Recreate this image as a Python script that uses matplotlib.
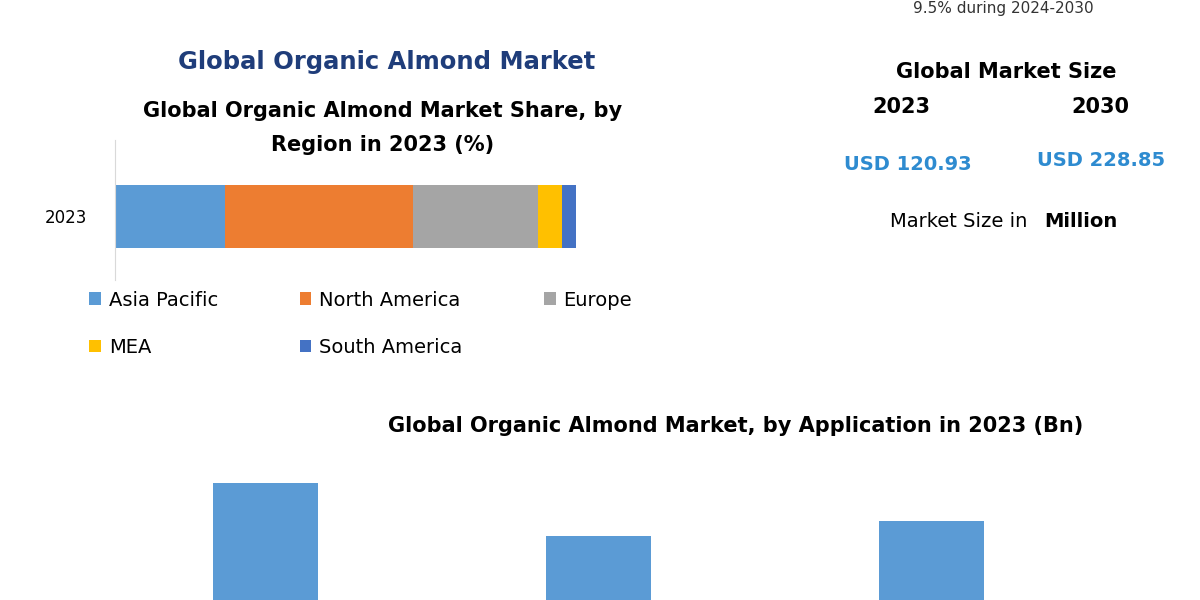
import matplotlib.pyplot as plt

regions = ['Asia Pacific', 'North America', 'Europe', 'MEA', 'South America']
shares = [23.9, 40.8, 27.1, 5.2, 3.0]
region_colors = ['#5b9bd5', '#ed7d31', '#a5a5a5', '#ffc000', '#4472c4']

applications = ['Food & Beverages', 'Cosmetics', 'Others']
app_values = [4.18, 2.29, 2.82]

fig = plt.figure(figsize=(12, 6), dpi=100)
W, H = 1200, 600

def px(x, y):
    return x / W, 1 - y / H

def txt(x, y, s, **kw):
    fig.text(*px(x, y), s, ha='center', va='center', **kw)

txt(1003, 8, '9.5% during 2024-2030', fontsize=11, color='#333333')
txt(387, 62, 'Global Organic Almond Market', fontsize=17.5, weight='bold', color='#1f3d7a')
txt(383, 111, 'Global Organic Almond Market Share, by', fontsize=15, weight='bold')
txt(383, 145, 'Region in 2023 (%)', fontsize=15, weight='bold')
txt(1006, 72, 'Global Market Size', fontsize=15, weight='bold')
txt(901, 107, '2023', fontsize=15, weight='bold')
txt(1100, 107, '2030', fontsize=15, weight='bold')
txt(908, 165, 'USD 120.93', fontsize=14, weight='bold', color='#2e8bd0')
txt(1101, 161, 'USD 228.85', fontsize=14, weight='bold', color='#2e8bd0')
fig.text(*px(890, 221), 'Market Size in', ha='left', va='center', fontsize=14)
fig.text(*px(1044, 221), 'Million', ha='left', va='center', fontsize=14, weight='bold')
txt(736, 426, 'Global Organic Almond Market, by Application in 2023 (Bn)', fontsize=15, weight='bold')

# stacked share bar
l, b = px(115, 280)
ax = fig.add_axes([l, b, (622 - 115) / W, (280 - 140) / H])
left = 0
handles = []
for name, v, c in zip(regions, shares, region_colors):
    handles.append(ax.barh(['2023'], [v], left=left, color=c, height=0.63, label=name))
    left += v
ax.set_xlim(0, 110)
ax.set_ylim(-0.64, 0.76)
for s in ['top', 'right', 'bottom']:
    ax.spines[s].set_visible(False)
ax.spines['left'].set_color('#d9d9d9')
ax.set_xticks([])
ax.tick_params(axis='y', length=0, labelsize=12, pad=20)
order = [0, 3, 1, 4, 2]
ax.legend([handles[i] for i in order], [regions[i] for i in order],
          loc='upper left', bbox_to_anchor=(-0.085, 0.05), ncol=3, frameon=False,
          fontsize=14, handlelength=0.6, handleheight=0.6, columnspacing=4.2,
          labelspacing=1.45, handletextpad=0.4)

# application bars (cut off at bottom)
l, b = px(100, 600)
ax2 = fig.add_axes([l, b, (1100 - 100) / W, 140 / H])
ax2.bar(range(3), app_values, width=0.315, color='#5b9bd5')
ax2.set_xlim(-0.495, 2.505)
ax2.set_ylim(0, 5)
ax2.axis('off')

fig.savefig('out.png', dpi=100, facecolor='white')
